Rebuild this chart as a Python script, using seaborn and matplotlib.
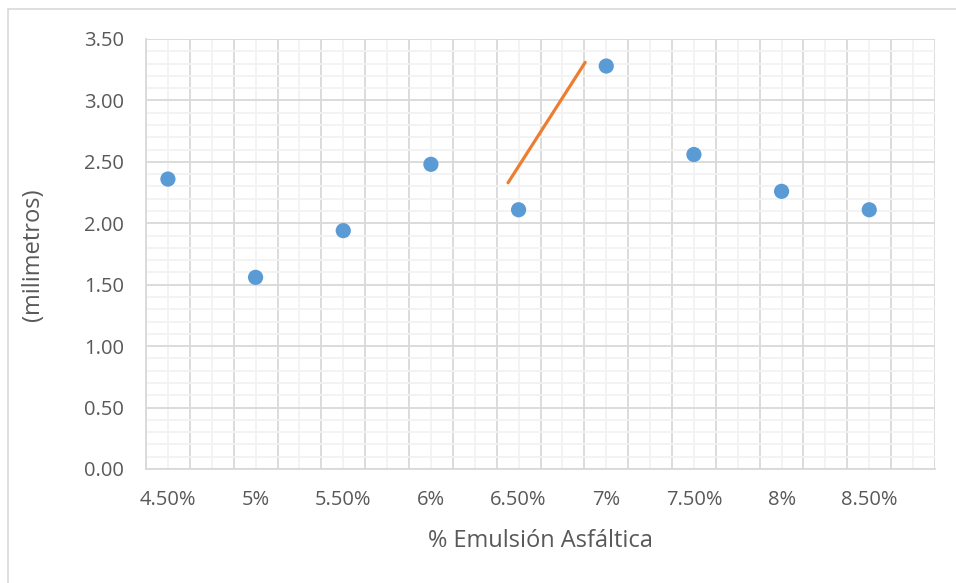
import pandas as pd
import matplotlib.pyplot as plt
import seaborn as sns
from matplotlib.ticker import MultipleLocator
from matplotlib.patches import Rectangle

# Data
categories = ["4.50%", "5%", "5.50%", "6%", "6.50%", "7%", "7.50%", "8%", "8.50%"]
mm_values = [2.36, 1.56, 1.94, 2.48, 2.11, 3.28, 2.56, 2.26, 2.11]

# orange segment (in category-position units)
line_x = [3.88, 4.76]
line_y = [2.33, 3.31]

df = pd.DataFrame({"pos": range(len(categories)), "Categoria": categories, "mm": mm_values})

sns.set_theme(style="white")
plt.rcParams["font.family"] = ["Open Sans", "DejaVu Sans"]

fig = plt.figure(figsize=(9.56, 5.83), dpi=100)
ax = fig.add_axes([146 / 956, 114 / 583, 789 / 956, 430 / 583])

# outer chart border
fig.patches.append(Rectangle((7.5 / 956, -0.1), 1.2, (583 - 9.5) / 583 + 0.1,
                             transform=fig.transFigure, fill=False,
                             edgecolor="#d9d9d9", linewidth=1.2))

sns.scatterplot(data=df, x="pos", y="mm", ax=ax, s=120, color="#5B9BD5",
                edgecolor="none", zorder=3, legend=False)
sns.lineplot(x=line_x, y=line_y, ax=ax, color="#ED7D31", linewidth=2.3, zorder=4)

ax.set_xlim(-0.25, 8.75)
ax.set_ylim(0, 3.5)

# gridlines like Excel
ax.xaxis.set_major_locator(MultipleLocator(0.5, offset=0.25))
ax.xaxis.set_minor_locator(MultipleLocator(0.5))
ax.yaxis.set_major_locator(MultipleLocator(0.5))
ax.yaxis.set_minor_locator(MultipleLocator(0.1))
ax.grid(which="minor", color="#f2f2f2", linewidth=1.3, zorder=0)
ax.grid(which="major", color="#d9d9d9", linewidth=1.3, zorder=1)
ax.set_axisbelow(True)

# category labels drawn as text under each point position
ax.set_xticklabels([])
ax.tick_params(axis="both", which="both", length=0)
for i, lab in enumerate(categories):
    ax.text(i, -0.25, lab, ha="center", va="center", fontsize=14.5, color="#595959",
            transform=ax.transData)
ax.set_yticklabels([f"{v:.2f}" for v in ax.get_yticks()], fontsize=14.5, color="#595959")
ax.tick_params(axis="y", pad=16)

for side in ["top", "right"]:
    ax.spines[side].set_visible(False)
for side in ["left", "bottom"]:
    ax.spines[side].set_color("#d9d9d9")
    ax.spines[side].set_linewidth(1.3)

ax.set_xlabel("% Emulsión Asfáltica", fontsize=17, color="#595959", va="center")
ax.set_ylabel("(milimetros)", fontsize=17, color="#595959", va="center")
ax.xaxis.set_label_coords((540 - 146) / 789, (469 - 541) / 430)
ax.yaxis.set_label_coords((33 - 146) / 789, (469 - 255) / 430)

fig.savefig("out.png", dpi=100)
